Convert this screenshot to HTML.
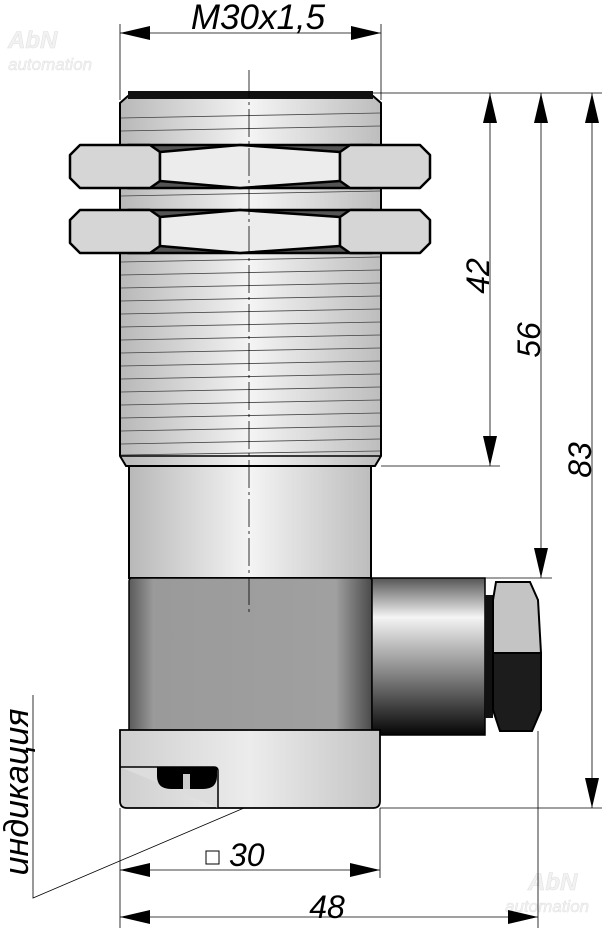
<!DOCTYPE html>
<html><head><meta charset="utf-8"><style>
html,body{margin:0;padding:0;background:#fff}
svg{display:block}
text{font-family:"Liberation Sans",sans-serif;font-style:italic}
</style></head><body>
<svg width="604" height="932" viewBox="0 0 604 932" xmlns="http://www.w3.org/2000/svg">
<defs>
<linearGradient id="met" x1="0" x2="1" y1="0" y2="0">
<stop offset="0" stop-color="#b8b8b8"/><stop offset="0.5" stop-color="#f4f4f4"/><stop offset="1" stop-color="#bdbdbd"/>
</linearGradient>
<linearGradient id="blk" x1="0" x2="1">
<stop offset="0" stop-color="#5a5a5a"/><stop offset="0.1" stop-color="#9a9a9a"/><stop offset="0.85" stop-color="#a0a0a0"/><stop offset="1" stop-color="#4a4a4a"/>
</linearGradient>
<linearGradient id="con" x1="0" x2="0" y1="0" y2="1">
<stop offset="0" stop-color="#555"/><stop offset="0.25" stop-color="#f4f4f4"/><stop offset="0.6" stop-color="#888"/><stop offset="1" stop-color="#050505"/>
</linearGradient>
<linearGradient id="base" x1="0" x2="1">
<stop offset="0" stop-color="#cfcfcf"/><stop offset="0.5" stop-color="#ececec"/><stop offset="1" stop-color="#c4c4c4"/>
</linearGradient>
<marker id="ar" markerWidth="30" markerHeight="14" refX="30" refY="7" orient="auto" markerUnits="userSpaceOnUse">
<path d="M0,0 L30,7 L0,14 Z" fill="#000"/></marker>
<marker id="al" markerWidth="30" markerHeight="14" refX="0" refY="7" orient="auto" markerUnits="userSpaceOnUse">
<path d="M30,0 L0,7 L30,14 Z" fill="#000"/></marker>
</defs>

<!-- watermarks -->
<text x="8" y="48" font-size="24" fill="#f2f2f2" stroke="#e2e2e2" stroke-width="0.6" font-style="normal" font-weight="bold">AbN</text>
<text x="8" y="70" font-size="17" fill="#f2f2f2" stroke="#e2e2e2" stroke-width="0.5" font-style="normal">automation</text>
<text x="528" y="890" font-size="24" fill="#f2f2f2" stroke="#e2e2e2" stroke-width="0.6" font-style="normal" font-weight="bold">AbN</text>
<text x="505" y="912" font-size="17" fill="#f2f2f2" stroke="#e2e2e2" stroke-width="0.5" font-style="normal">automation</text>

<!-- thread body -->
<path d="M120,103 L128,96 L373,96 L381,103 L381,456 L375,466 L126,466 L120,456 Z" fill="url(#met)" stroke="#000" stroke-width="2"/>
<rect x="128" y="91" width="245" height="8" fill="#111"/>
<g stroke="#444" stroke-width="0.8">
<line x1="121" y1="118" x2="380" y2="113"/><line x1="121" y1="131" x2="380" y2="126"/>
<line x1="121" y1="196" x2="380" y2="191"/>
<line x1="121" y1="262" x2="380" y2="257"/><line x1="121" y1="275" x2="380" y2="270"/>
<line x1="121" y1="288" x2="380" y2="283"/><line x1="121" y1="301" x2="380" y2="296"/>
<line x1="121" y1="314" x2="380" y2="309"/><line x1="121" y1="327" x2="380" y2="322"/>
<line x1="121" y1="340" x2="380" y2="335"/><line x1="121" y1="353" x2="380" y2="348"/>
<line x1="121" y1="366" x2="380" y2="361"/><line x1="121" y1="379" x2="380" y2="374"/>
<line x1="121" y1="392" x2="380" y2="387"/><line x1="121" y1="405" x2="380" y2="400"/>
<line x1="121" y1="418" x2="380" y2="413"/><line x1="121" y1="431" x2="380" y2="426"/>
<line x1="121" y1="444" x2="380" y2="439"/><line x1="121" y1="455" x2="380" y2="451"/>
</g>
<line x1="120" y1="456" x2="381" y2="456" stroke="#000" stroke-width="1.5"/>

<!-- nuts -->
<g stroke="#000" stroke-width="2.5" stroke-linejoin="round">
<g>
<path d="M128,188 L372,188 L372,145 L128,145 Z" fill="#555"/>
<path d="M70,155 L80,145 L150,145 L160,152 L160,181 L150,188 L80,188 L70,178 Z" fill="#d6d6d6"/>
<path d="M160,152 L240,145 L340,152 L340,181 L240,188 L160,181 Z" fill="#ececec"/>
<path d="M340,152 L350,145 L420,145 L430,155 L430,178 L420,188 L350,188 L340,181 Z" fill="#d6d6d6"/>
</g>
<g transform="translate(0,65)">
<path d="M128,188 L372,188 L372,145 L128,145 Z" fill="#555"/>
<path d="M70,155 L80,145 L150,145 L160,152 L160,181 L150,188 L80,188 L70,178 Z" fill="#d6d6d6"/>
<path d="M160,152 L240,145 L340,152 L340,181 L240,188 L160,181 Z" fill="#ececec"/>
<path d="M340,152 L350,145 L420,145 L430,155 L430,178 L420,188 L350,188 L340,181 Z" fill="#d6d6d6"/>
</g>
</g>

<!-- cylinder -->
<rect x="129" y="466" width="242" height="112" fill="url(#met)" stroke="#000" stroke-width="2"/>

<!-- dark block -->
<rect x="129" y="578" width="243" height="155" rx="3" fill="url(#blk)" stroke="#000" stroke-width="1.5"/>

<!-- connector -->
<rect x="372" y="578" width="113" height="157" fill="url(#con)" stroke="#000" stroke-width="1.5"/>
<rect x="485" y="595" width="8" height="123" fill="#111"/>
<path d="M496,582 L530,582 L538,600 L541,653 L493,653 L493,600 Z" fill="#c4c4c4" stroke="#000" stroke-width="2"/>
<path d="M493,653 L541,653 L541,710 L532,731 L500,731 L493,710 Z" fill="#1c1c1c" stroke="#000" stroke-width="2"/>

<!-- base -->
<path d="M120,730 L380,730 L380,801 Q380,808 373,808 L127,808 Q120,808 120,801 Z" fill="url(#base)" stroke="#000" stroke-width="1.8"/>
<path d="M120,767 L214,767 Q218,767 218,771 L218,808" fill="#ddd" stroke="#000" stroke-width="1.5"/>
<path d="M157,767 L217,767 L217,776 Q217,789 203,789 L171,789 Q157,789 157,776 Z" fill="#000"/>
<rect x="183" y="774" width="7" height="15" fill="#ccc"/>

<!-- centerline -->
<line x1="249" y1="70" x2="249" y2="612" stroke="#000" stroke-width="0.8" stroke-dasharray="28,4,3,4"/>

<!-- dimension lines -->
<g stroke="#000" stroke-width="0.8" fill="none">
<line x1="120" y1="24" x2="120" y2="100"/><line x1="381" y1="24" x2="381" y2="100"/>
<line x1="120" y1="33" x2="381" y2="33" marker-start="url(#al)" marker-end="url(#ar)"/>
<line x1="373" y1="93" x2="602" y2="93"/>
<line x1="381" y1="466" x2="500" y2="466"/>
<line x1="485" y1="578" x2="552" y2="578"/>
<line x1="380" y1="808" x2="602" y2="808"/>
<line x1="490" y1="93" x2="490" y2="466" marker-start="url(#al)" marker-end="url(#ar)"/>
<line x1="541" y1="93" x2="541" y2="578" marker-start="url(#al)" marker-end="url(#ar)"/>
<line x1="592" y1="93" x2="592" y2="808" marker-start="url(#al)" marker-end="url(#ar)"/>
<line x1="120" y1="808" x2="120" y2="928"/><line x1="380" y1="808" x2="380" y2="878"/>
<line x1="538" y1="731" x2="538" y2="928"/>
<line x1="120" y1="870" x2="380" y2="870" marker-start="url(#al)" marker-end="url(#ar)"/>
<line x1="120" y1="917" x2="538" y2="917" marker-start="url(#al)" marker-end="url(#ar)"/>
<polyline points="244,808 33,898 33,695"/>
</g>

<text x="258" y="29" font-size="35" text-anchor="middle">M30x1,5</text>
<text transform="translate(489,276) rotate(-90)" font-size="32" text-anchor="middle">42</text>
<text transform="translate(540,340) rotate(-90)" font-size="32" text-anchor="middle">56</text>
<text transform="translate(591,460) rotate(-90)" font-size="32" text-anchor="middle">83</text>
<text x="327" y="918" font-size="32" text-anchor="middle">48</text>
<rect x="206" y="851" width="13" height="13" fill="none" stroke="#000" stroke-width="1"/>
<text x="229" y="866" font-size="32">30</text>
<text transform="translate(28,792) rotate(-90)" font-size="34" text-anchor="middle">индикация</text>
</svg>
</body></html>
